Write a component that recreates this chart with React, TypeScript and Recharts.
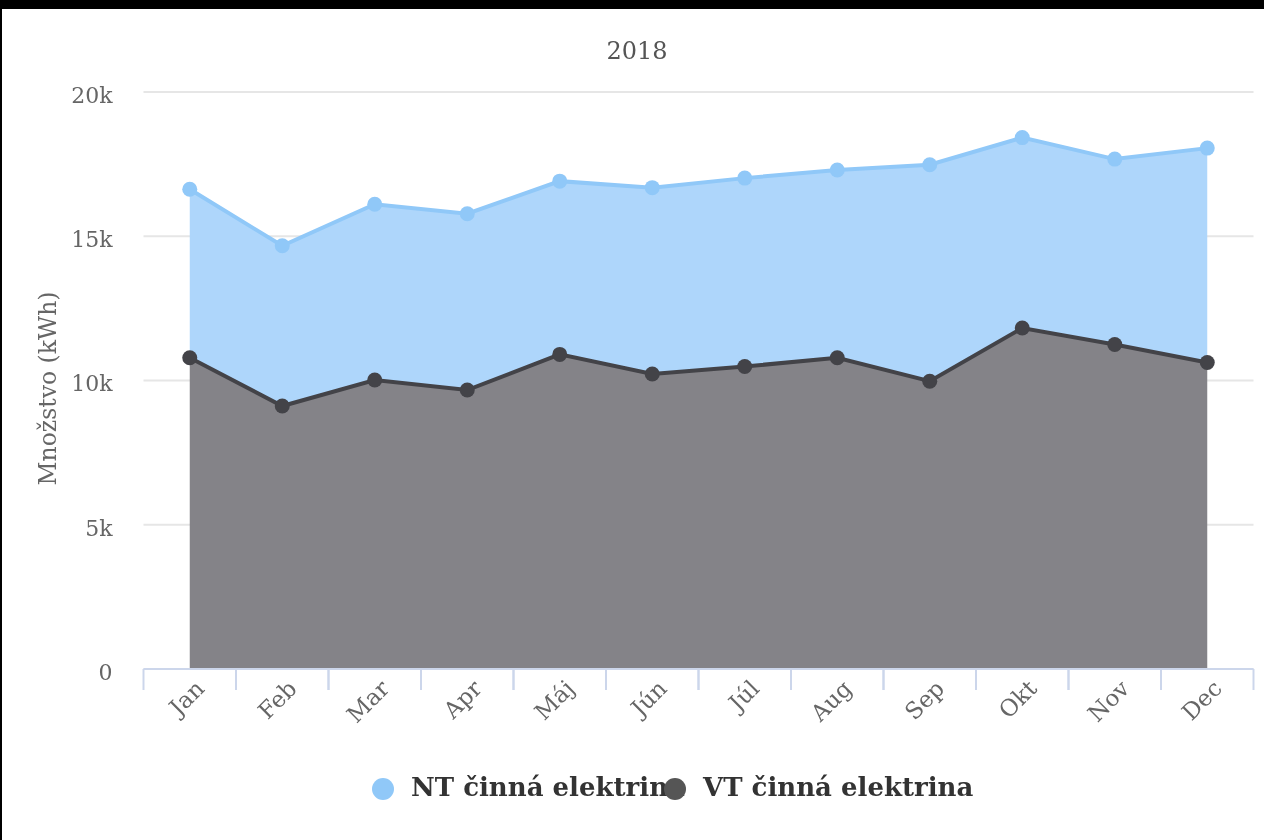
import React from "react";
import {
  Area,
  AreaChart,
  CartesianGrid,
  Legend,
  XAxis,
  YAxis,
} from "recharts";

// 2018 – mesačná spotreba, NT / VT (kWh)
const months = ["Jan", "Feb", "Mar", "Apr", "Máj", "Jún", "Júl", "Aug", "Sep", "Okt", "Nov", "Dec"];
const ntValues = [5840, 5555, 6095, 6110, 6005, 6460, 6530, 6505, 7505, 6600, 6425, 7430];
const vtValues = [10790, 9115, 10015, 9670, 10905, 10225, 10485, 10790, 9975, 11820, 11250, 10625];
const yTicks = [0, 5000, 10000, 15000, 20000];

const data = months.map((month, i) => ({ month, nt: ntValues[i], vt: vtValues[i] }));

const FONT = "'DejaVu Serif', serif";
const HALF_BAND = 46.25;

const NT_LINE = "#90c8f8";
const NT_FILL = "#aed6fb";
const VT_LINE = "#434348";
const VT_FILL = "#848388";

const formatK = (v: number) => (v === 0 ? "0" : `${v / 1000}k`);

function MonthTick(props: any) {
  const { x, y, payload } = props;
  const ax = x + 16;
  const ay = y + 21;
  return (
    <g>
      <line x1={x - HALF_BAND} x2={x - HALF_BAND} y1={y} y2={y + 21} stroke="#ccd6eb" strokeWidth={2} />
      <line x1={x + HALF_BAND} x2={x + HALF_BAND} y1={y} y2={y + 21} stroke="#ccd6eb" strokeWidth={2} />
      <text
        x={ax}
        y={ay}
        textAnchor="end"
        transform={`rotate(-45, ${ax}, ${ay})`}
        fill="#666"
        fontFamily={FONT}
        fontSize={23}
      >
        {payload.value}
      </text>
    </g>
  );
}

function AxisTitle(props: any) {
  const { viewBox } = props;
  const cx = viewBox.x + 46;
  const cy = viewBox.y + viewBox.height / 2 + 8;
  return (
    <text
      x={cx}
      y={cy}
      textAnchor="middle"
      dominantBaseline="central"
      transform={`rotate(-90, ${cx}, ${cy})`}
      fill="#666"
      fontFamily={FONT}
      fontSize={23.5}
    >
      Množstvo (kWh)
    </text>
  );
}

function LegendContent(props: any) {
  const items = props.payload ?? [];
  return (
    <div style={{ display: "flex", whiteSpace: "nowrap" }}>
      {items.map((item: any) => (
        <div key={item.value} style={{ width: 292, height: 26, position: "relative", flex: "none" }}>
          <span
            style={{
              position: "absolute",
              left: 0,
              top: 2,
              width: 22,
              height: 22,
              borderRadius: "50%",
              background: item.value.startsWith("NT") ? NT_LINE : "#555",
            }}
          />
          <span
            style={{
              position: "absolute",
              left: 39,
              top: -4,
              fontFamily: FONT,
              fontWeight: "bold",
              fontSize: 26,
              color: "#333",
            }}
          >
            {item.value}
          </span>
        </div>
      ))}
    </div>
  );
}

export default function App() {
  return (
    <div style={{ position: "fixed", inset: 0, background: "#000" }}>
      <div
        style={{
          position: "absolute",
          left: 2,
          top: 9,
          width: 1262,
          height: 831,
          background: "#fff",
        }}
      >
        <div
          style={{
            position: "absolute",
            left: 0,
            top: 28,
            width: 1270,
            textAlign: "center",
            fontFamily: FONT,
            fontSize: 24,
            color: "#555",
          }}
        >
          2018
        </div>
        <AreaChart
          width={1262}
          height={831}
          data={data}
          reverseStackOrder
          margin={{ top: 83, right: 10.5, bottom: 111, left: 0 }}
        >
          <CartesianGrid vertical={false} stroke="#e6e6e6" strokeWidth={2} />
          <XAxis
            dataKey="month"
            padding={{ left: HALF_BAND, right: HALF_BAND }}
            height={60}
            tickLine={false}
            tickSize={0}
            tickMargin={0}
            interval={0}
            axisLine={{ stroke: "#ccd6eb", strokeWidth: 2 }}
            tick={<MonthTick />}
          />
          <YAxis
            width={141.5}
            domain={[0, 20000]}
            ticks={yTicks}
            tickFormatter={formatK}
            axisLine={false}
            tickLine={false}
            tickSize={0}
            tickMargin={31}
            tick={{ fill: "#666", fontFamily: FONT, fontSize: 22, dy: 3 }}
            label={<AxisTitle />}
          />
          <Area
            type="linear"
            dataKey="nt"
            name="NT činná elektrina"
            stackId="1"
            stroke={NT_LINE}
            strokeWidth={4}
            fill={NT_FILL}
            fillOpacity={1}
            dot={{ r: 7.5, fill: NT_LINE, stroke: "none" }}
            activeDot={false}
            isAnimationActive={false}
          />
          <Area
            type="linear"
            dataKey="vt"
            name="VT činná elektrina"
            stackId="1"
            stroke={VT_LINE}
            strokeWidth={4}
            fill={VT_FILL}
            fillOpacity={1}
            dot={{ r: 7.5, fill: VT_LINE, stroke: "none" }}
            activeDot={false}
            isAnimationActive={false}
          />
          <Legend
            verticalAlign="middle"
            content={<LegendContent />}
            wrapperStyle={{ position: "absolute", left: 370, top: 767, width: 700, height: 26 }}
          />
        </AreaChart>
      </div>
    </div>
  );
}
